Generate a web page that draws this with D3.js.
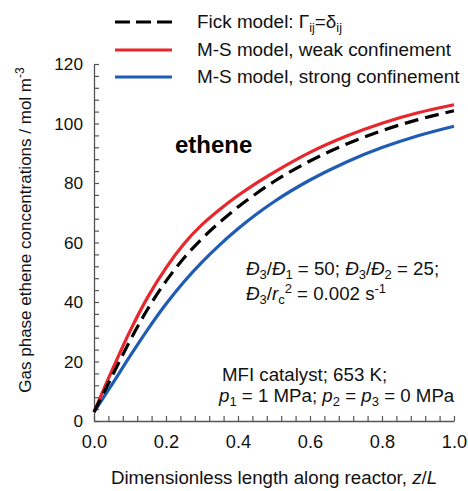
<!DOCTYPE html>
<html>
<head>
<meta charset="utf-8">
<script src="https://cdn.jsdelivr.net/npm/d3@7"></script>
<style>
  html, body { margin: 0; padding: 0; background: #fff; }
  svg { display: block; font-family: Arial, "Liberation Sans", Helvetica, sans-serif; }
</style>
</head>
<body>
<svg id="chart" width="468" height="491"></svg>
<script>
// Dimensionless position along the reactor, z/L
const zL = [0, 0.05, 0.1, 0.15, 0.2, 0.25, 0.3, 0.35, 0.4, 0.45, 0.5, 0.6, 0.7, 0.8, 0.9, 1.0];
// Gas phase ethene concentration, mol m^-3
const fickModel = [3, 15, 27, 37.8, 47, 54.8, 61.3, 66.9, 71.9, 76.4, 80.5, 87.4, 93, 97.6, 101.3, 104.3];
const msWeak    = [3, 17, 30.2, 41.8, 51.5, 59.6, 66, 71.2, 75.8, 79.9, 83.6, 90.3, 95.7, 100.1, 103.6, 106.3];
const msStrong  = [3, 12.3, 21.8, 30.9, 39.3, 46.8, 53.4, 59.3, 64.6, 69.4, 73.7, 81, 87, 91.9, 95.9, 99.1];

const xMajorTicks = [0, 0.2, 0.4, 0.6, 0.8, 1.0];
const yMajorTicks = [0, 20, 40, 60, 80, 100, 120];
const xDomain = [0, 1];
const yDomain = [0, 120];

const svg = d3.select("#chart");
const plot = { left: 94, right: 454, top: 64, bottom: 421 };

const x = d3.scaleLinear().domain(xDomain).range([plot.left, plot.right]);
const y = d3.scaleLinear().domain(yDomain).range([plot.bottom, plot.top]);

const axisColor = "#555";
const textFont = 18.7;

// Minor ticks every 0.04 / 4 units, labels on the majors only
const xTickVals = d3.range(0, 26).map(i => i * 0.04);
const yTickVals = d3.range(0, 31).map(i => i * 4);
const isMajorX = v => xMajorTicks.some(m => Math.abs(m - v) < 1e-9);
const isMajorY = v => yMajorTicks.includes(v);

const xAxis = d3.axisBottom(x)
  .tickValues(xTickVals)
  .tickSizeInner(-5).tickSizeOuter(0).tickPadding(14)
  .tickFormat(v => isMajorX(v) ? d3.format(".1f")(v) : "");
const yAxis = d3.axisLeft(y)
  .tickValues(yTickVals)
  .tickSizeInner(-5).tickSizeOuter(0).tickPadding(11)
  .tickFormat(v => isMajorY(v) ? String(v) : "");

function styleAxis(g, size) {
  g.select(".domain").attr("stroke", axisColor).attr("stroke-width", 1.3);
  g.selectAll(".tick line").attr("stroke", axisColor).attr("stroke-width", 1.2);
  g.selectAll(".tick text").attr("fill", "#111").style("font-size", size + "px")
    .style("font-family", "Arial, 'Liberation Sans', sans-serif");
}

svg.append("g").attr("transform", `translate(0,${plot.bottom})`).call(xAxis).call(styleAxis, 18.2);
svg.append("g").attr("transform", `translate(${plot.left},0)`).call(yAxis).call(styleAxis, 17.2);

// Curves (smooth monotone interpolation through the sampled profile)
const line = d3.line().x((d, i) => x(zL[i])).y(d => y(d)).curve(d3.curveMonotoneX);
const series = [
  { name: "Fick model", values: fickModel, color: "#000", dash: "14,7" },
  { name: "M-S weak",   values: msWeak,    color: "#e8262b", dash: null },
  { name: "M-S strong", values: msStrong,  color: "#1f5cb3", dash: null }
];
// draw strong, weak, then Fick on top
[series[2], series[1], series[0]].forEach(s => {
  svg.append("path")
    .datum(s.values)
    .attr("d", line)
    .attr("fill", "none")
    .attr("stroke", s.color)
    .attr("stroke-width", 3.2)
    .attr("stroke-dasharray", s.dash)
    .attr("stroke-linecap", "butt")
    .attr("stroke-linejoin", "round");
});

// Legend
const legendRows = [
  { y: 22, color: "#000", dash: "15,6" },
  { y: 50, color: "#e8262b", dash: null },
  { y: 77, color: "#1f5cb3", dash: null }
];
legendRows.forEach(r => {
  svg.append("line")
    .attr("x1", 115).attr("x2", 172).attr("y1", r.y).attr("y2", r.y)
    .attr("stroke", r.color).attr("stroke-width", 3.2)
    .attr("stroke-dasharray", r.dash);
});
const legendText = svg.append("g").style("font-size", "18.9px").attr("fill", "#111");
const t1 = legendText.append("text").attr("x", 197).attr("y", 28);
t1.append("tspan").text("Fick model: Γ");
t1.append("tspan").attr("dy", 4).style("font-size", "12.5px").text("ij");
t1.append("tspan").attr("dy", -4).text("=δ");
t1.append("tspan").attr("dy", 4).style("font-size", "12.5px").text("ij");
legendText.append("text").attr("x", 197).attr("y", 56).text("M-S model, weak confinement");
legendText.append("text").attr("x", 197).attr("y", 83).text("M-S model, strong confinement");

// Component label
svg.append("text").attr("x", 175).attr("y", 153)
  .style("font-size", "24px").style("font-weight", "bold").attr("fill", "#000")
  .text("ethene");

// Parameter annotations
const ann = svg.append("g").style("font-size", textFont + "px").attr("fill", "#111");
function addRuns(textSel, runs) {
  let shift = 0;
  runs.forEach(r => {
    const target = r.sub ? 4 : r.sup ? -7 : 0;
    const ts = textSel.append("tspan").attr("dy", target - shift).text(r.t);
    if (r.sub || r.sup) ts.style("font-size", "13px");
    if (r.i) ts.style("font-style", "italic");
    shift = target;
  });
}
addRuns(ann.append("text").attr("x", 246).attr("y", 275), [
  { t: "Đ", i: true }, { t: "3", sub: true }, { t: "/" }, { t: "Đ", i: true }, { t: "1", sub: true },
  { t: " = 50; " }, { t: "Đ", i: true }, { t: "3", sub: true }, { t: "/" }, { t: "Đ", i: true },
  { t: "2", sub: true }, { t: " = 25;" }
]);
addRuns(ann.append("text").attr("x", 246).attr("y", 300), [
  { t: "Đ", i: true }, { t: "3", sub: true }, { t: "/" }, { t: "r", i: true }, { t: "c", sub: true },
  { t: "2", sup: true }, { t: " = 0.002 s" }, { t: "-1", sup: true }
]);
ann.append("text").attr("x", 222).attr("y", 381).text("MFI catalyst; 653 K;");
addRuns(ann.append("text").attr("x", 219).attr("y", 402), [
  { t: "p", i: true }, { t: "1", sub: true }, { t: " = 1 MPa; " }, { t: "p", i: true }, { t: "2", sub: true },
  { t: " = " }, { t: "p", i: true }, { t: "3", sub: true }, { t: " = 0 MPa" }
]);

// Axis titles
const xt = svg.append("text").attr("x", 274).attr("y", 484).attr("text-anchor", "middle")
  .style("font-size", textFont + "px").attr("fill", "#111");
xt.append("tspan").text("Dimensionless length along reactor, ");
xt.append("tspan").style("font-style", "italic").text("z");
xt.append("tspan").text("/");
xt.append("tspan").style("font-style", "italic").text("L");

const yt = svg.append("text").attr("transform", "translate(31,230) rotate(-90)")
  .attr("text-anchor", "middle").style("font-size", "17px").attr("fill", "#111");
yt.append("tspan").text("Gas phase ethene concentrations / mol m");
yt.append("tspan").attr("dy", -7).style("font-size", "12px").text("-3");
</script>
</body>
</html>
